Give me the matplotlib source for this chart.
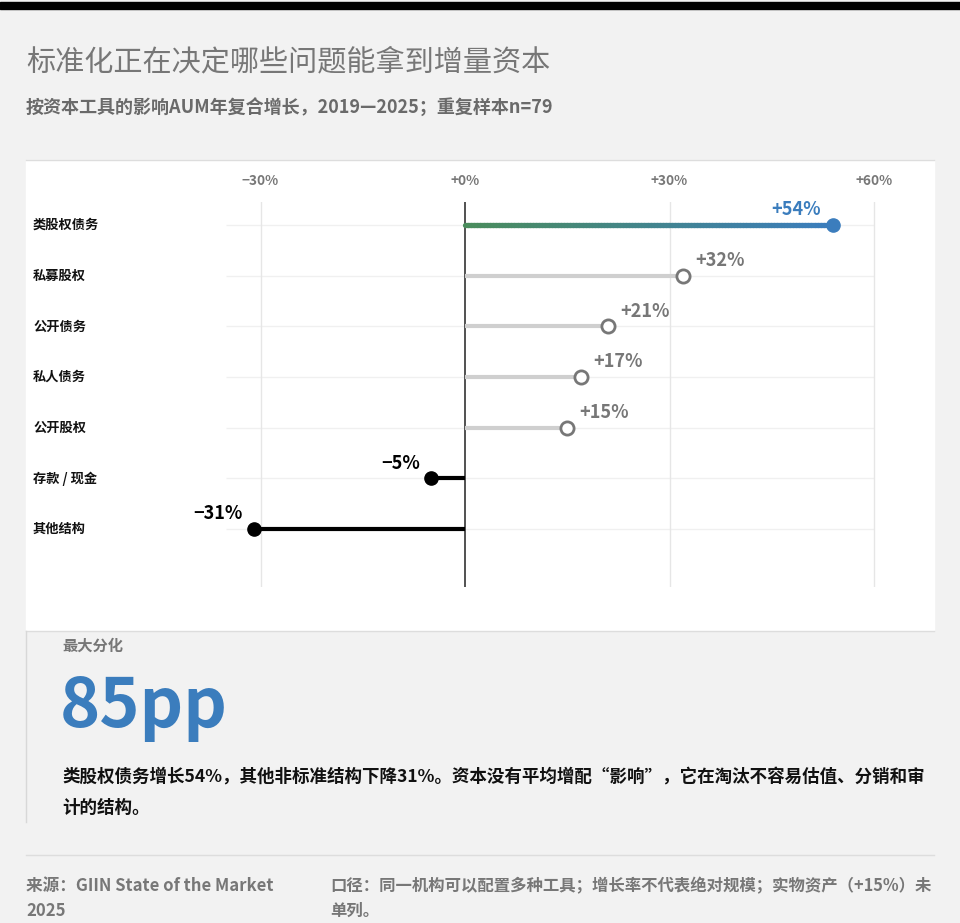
import numpy as np
import matplotlib
matplotlib.use("Agg")
import matplotlib.pyplot as plt
import matplotlib.transforms as mtransforms
from matplotlib.collections import LineCollection
from matplotlib.colors import LinearSegmentedColormap

plt.rcParams['font.family'] = ['Noto Sans CJK SC', 'DejaVu Sans']

# data
categories = ["类股权债务", "私募股权", "公开债务", "私人债务", "公开股权", "存款 / 现金", "其他结构"]
growth = [54, 32, 21, 17, 15, -5, -31]
tick_vals = [-30, 0, 30, 60]
tick_labels = ["−30%", "+0%", "+30%", "+60%"]

W, H = 960, 923
BG = "#f2f2f2"
BLUE = "#3b7dbd"
GREEN = "#4a8c5c"
GRAY_TXT = "#777777"

def fx(x):
    return x / W

def fy(y):
    return 1 - y / H

fig = plt.figure(figsize=(W / 100, H / 100), dpi=100, facecolor=BG)

# top black bar
fig.add_artist(plt.Rectangle((0, fy(9)), 1, (9 - 2) / H, transform=fig.transFigure,
                             color="black", zorder=-5))
# white chart panel
fig.add_artist(plt.Rectangle((fx(26), fy(630)), fx(934) - fx(26), (630 - 160) / H,
                             transform=fig.transFigure, color="white", zorder=-5))
fig.add_artist(plt.Line2D([fx(26), fx(934)], [fy(160), fy(160)], color="#dddddd", lw=1, zorder=-4))
fig.add_artist(plt.Line2D([fx(26), fx(934)], [fy(631), fy(631)], color="#dddddd", lw=1, zorder=-4))
fig.add_artist(plt.Line2D([fx(26), fx(26)], [fy(631), fy(822)], color="#d8d8d8", lw=1, zorder=-4))
fig.add_artist(plt.Line2D([fx(26), fx(934)], [fy(855), fy(855)], color="#dddddd", lw=1, zorder=-4))

# titles
fig.text(fx(26), fy(62), "标准化正在决定哪些问题能拿到增量资本", fontsize=21, color=GRAY_TXT,
         va="center", ha="left")
fig.text(fx(26), fy(108), "按资本工具的影响AUM年复合增长，2019—2025；重复样本n=79", fontsize=13,
         color="#6a6a6a", fontweight="bold", va="center", ha="left")

# lollipop axes
px_per = 204.5 / 30
xl, xr = -35, 64
left_px = 465 + xl * px_per
right_px = 465 + xr * px_per
ax = fig.add_axes([fx(left_px), fy(587), (right_px - left_px) / W, (587 - 202) / H])
ax.set_facecolor("none")
ax.set_xlim(xl, xr)
y_top = (202 - 225) / 50.67
y_bot = (587 - 225) / 50.67
ax.set_ylim(y_bot, y_top)
for s in ax.spines.values():
    s.set_visible(False)
ax.set_yticks([])
ax.xaxis.tick_top()
ax.set_xticks(tick_vals)
ax.set_xticklabels(tick_labels)
ax.tick_params(axis="x", length=0, pad=10, labelsize=9.8, labelcolor=GRAY_TXT)
for lab in ax.get_xticklabels():
    lab.set_fontweight("bold")

ypos = np.arange(len(categories))
ax.hlines(ypos, -35, 60, color="#f0f0f0", lw=1, zorder=1)
for t in tick_vals:
    if t != 0:
        ax.axvline(t, color="#e6e6e6", lw=1, zorder=1)
ax.axvline(0, color="#333333", lw=1.2, zorder=2)

trans = mtransforms.blended_transform_factory(fig.transFigure, ax.transData)
cmap = LinearSegmentedColormap.from_list("gb", [GREEN, BLUE])

for i, (cat, v) in enumerate(zip(categories, growth)):
    ax.text(fx(33), i, cat, transform=trans, fontsize=9.5, fontweight="bold",
            color="#111111", va="center", ha="left")
    if i == 0:
        xs = np.linspace(0, v, 120)
        segs = [[(xs[k], i), (xs[k + 1], i)] for k in range(len(xs) - 1)]
        lc = LineCollection(segs, colors=cmap(np.linspace(0, 1, len(segs))), lw=3.8,
                            capstyle="round", zorder=3)
        ax.add_collection(lc)
        ax.plot(v, i, "o", ms=9.5, color=BLUE, zorder=4)
        ax.annotate(f"+{v}%", (v, i), xytext=(-9, 11), textcoords="offset points",
                    ha="right", va="center", fontsize=13, fontweight="bold", color=BLUE)
    elif v > 0:
        ax.plot([0, v], [i, i], color="#cfcfcf", lw=3, solid_capstyle="butt", zorder=3)
        ax.plot(v, i, "o", ms=9.5, mfc="white", mec=GRAY_TXT, mew=2, zorder=4)
        ax.annotate(f"+{v}%", (v, i), xytext=(9, 11), textcoords="offset points",
                    ha="left", va="center", fontsize=13, fontweight="bold", color=GRAY_TXT)
    else:
        ax.plot([0, v], [i, i], color="black", lw=3, solid_capstyle="butt", zorder=3)
        ax.plot(v, i, "o", ms=9.5, color="black", zorder=4)
        ax.annotate(f"−{abs(v)}%", (v, i), xytext=(-8, 11), textcoords="offset points",
                    ha="right", va="center", fontsize=13, fontweight="bold", color="black")

# callout
fig.text(fx(62), fy(646), "最大分化", fontsize=11, fontweight="bold", color=GRAY_TXT,
         va="center", ha="left")
fig.text(fx(60), fy(708), "85pp", fontsize=49, fontweight="bold", color=BLUE,
         va="center", ha="left")
fig.text(fx(62), fy(777), "类股权债务增长54%，其他非标准结构下降31%。资本没有平均增配“影响”，它在淘汰不容易估值、分销和审",
         fontsize=12.6, fontweight="bold", color="#111111", va="center", ha="left")
fig.text(fx(62), fy(808), "计的结构。", fontsize=12.6, fontweight="bold", color="#111111",
         va="center", ha="left")

# footer
fig.text(fx(26), fy(886), "来源：GIIN State of the Market", fontsize=12, fontweight="bold",
         color=GRAY_TXT, va="center", ha="left")
fig.text(fx(26), fy(911), "2025", fontsize=12, fontweight="bold", color=GRAY_TXT,
         va="center", ha="left")
fig.text(fx(330), fy(886), "口径：同一机构可以配置多种工具；增长率不代表绝对规模；实物资产（+15%）未",
         fontsize=11.8, fontweight="bold", color=GRAY_TXT, va="center", ha="left")
fig.text(fx(330), fy(911), "单列。", fontsize=11.8, fontweight="bold", color=GRAY_TXT,
         va="center", ha="left")

fig.savefig("out.png", dpi=100, facecolor=BG)
